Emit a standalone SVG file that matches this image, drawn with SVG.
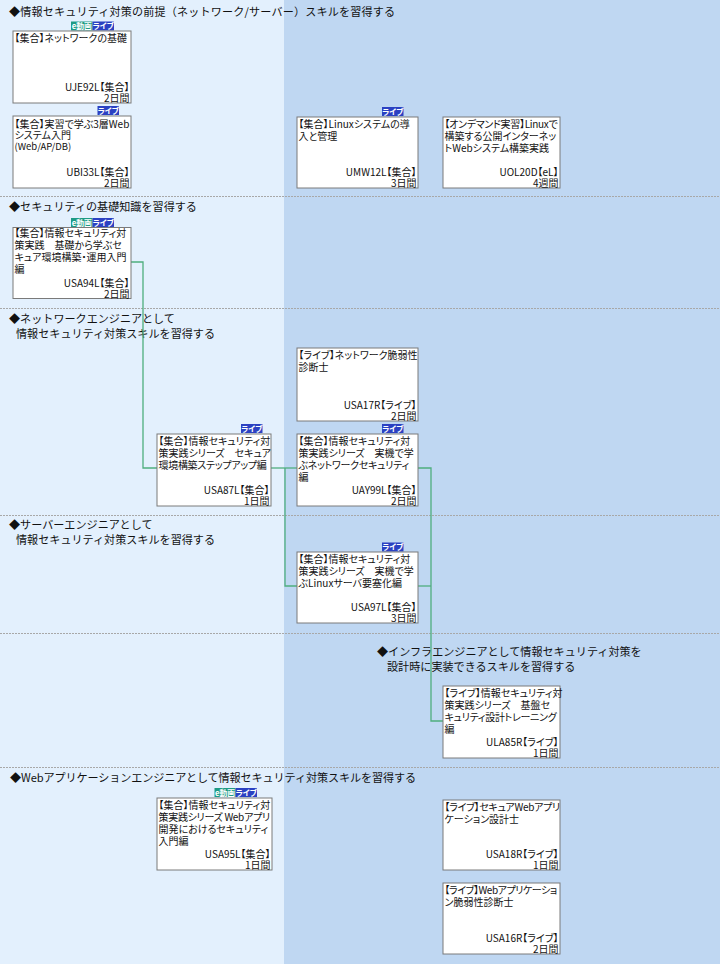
<svg xmlns="http://www.w3.org/2000/svg" width="720" height="964" viewBox="0 0 720 964">
<style>
.h{font-family:"Noto Sans CJK JP","Noto Sans",sans-serif;font-size:11.1px;fill:#111}
.t{font-family:"Noto Sans CJK JP","Noto Sans",sans-serif;font-size:10px;fill:#111;font-feature-settings:"palt"}
.r{text-anchor:end}
.n{letter-spacing:-0.3px}
.box{fill:#fff;stroke:#7a7a7a;stroke-width:1}
.sep{stroke:#a8a8a8;stroke-width:1;stroke-dasharray:2 1}
.con{fill:none;stroke:#4fae7e;stroke-width:1.3}
.bl{fill:#2b41c2}
.be{fill:#1e9b84}
.bt{font-family:"Noto Sans CJK JP","Noto Sans",sans-serif;font-size:7.8px;font-weight:bold;fill:#fff;text-anchor:middle;font-feature-settings:"palt"}
</style>
<g id="background">
<rect x="0" y="0" width="284" height="964" fill="#e3f0fd"/>
<rect x="284" y="0" width="436" height="964" fill="#bfd7f2"/>
<line class="sep" x1="0" y1="196.5" x2="720" y2="196.5"/>
<line class="sep" x1="0" y1="308.5" x2="720" y2="308.5"/>
<line class="sep" x1="0" y1="515.5" x2="720" y2="515.5"/>
<line class="sep" x1="0" y1="633.5" x2="720" y2="633.5"/>
<line class="sep" x1="0" y1="767.5" x2="720" y2="767.5"/>
</g>
<g id="headings">
<text class="h" x="9" y="16" textLength="386" lengthAdjust="spacing">◆情報セキュリティ対策の前提（ネットワーク/サーバー）スキルを習得する</text>
<text class="h" x="9" y="211">◆セキュリティの基礎知識を習得する</text>
<text class="h" x="9" y="323">◆ネットワークエンジニアとして<tspan x="16" dy="15">情報セキュリティ対策スキルを習得する</tspan></text>
<text class="h" x="9" y="529">◆サーバーエンジニアとして<tspan x="16" dy="14.5">情報セキュリティ対策スキルを習得する</tspan></text>
<text class="h" x="377" y="656">◆インフラエンジニアとして情報セキュリティ対策を<tspan x="387" dy="15">設計時に実装できるスキルを習得する</tspan></text>
<text class="h" x="10" y="782" textLength="406" lengthAdjust="spacing">◆Webアプリケーションエンジニアとして情報セキュリティ対策スキルを習得する</text>
</g>
<g id="connectors">
<polyline class="con" points="131,262 143,262 143,468 157,468"/>
<polyline class="con" points="271,468 297,468"/>
<polyline class="con" points="285,468 285,586 297,586"/>
<polyline class="con" points="418,468 431,468 431,721 443,721"/>
<polyline class="con" points="418,586 431,586"/>
</g>
<g id="UJE92L">
<rect class="be" x="71" y="21.5" width="21.5" height="9"/><text class="bt" x="81.8" y="29">e動画</text>
<rect class="bl" x="92.5" y="21.5" width="21.5" height="9"/><text class="bt" x="103.3" y="29">ライブ</text>
<rect class="box" x="13" y="31" width="118" height="72"/>
<text class="t" x="14.5" y="41.5">【集合】ネットワークの基礎</text>
<text class="t r" x="129.5" y="90.5">UJE92L【集合】<tspan x="129.5" dy="11.5">2日間</tspan></text>
</g>
<g id="UBI33L">
<rect class="bl" x="97.5" y="106" width="21.5" height="9"/><text class="bt" x="108.3" y="113.5">ライブ</text>
<rect class="box" x="13" y="116" width="118" height="72"/>
<text class="t" x="14.5" y="127.5">【集合】実習で学ぶ3層Web<tspan x="14.5" dy="11.5">システム入門</tspan><tspan x="14.5" dy="11" style="font-size:9.5px">(Web/AP/DB)</tspan></text>
<text class="t r" x="129.5" y="175.5">UBI33L【集合】<tspan x="129.5" dy="11.5">2日間</tspan></text>
</g>
<g id="UMW12L">
<rect class="bl" x="382" y="107" width="21.5" height="9"/><text class="bt" x="392.8" y="114.5">ライブ</text>
<rect class="box" x="297" y="117" width="121" height="71"/>
<text class="t" x="298.5" y="127.5">【集合】Linuxシステムの導<tspan x="298.5" dy="12">入と管理</tspan></text>
<text class="t r" x="416.5" y="175.5">UMW12L【集合】<tspan x="416.5" dy="11.5">3日間</tspan></text>
</g>
<g id="UOL20D">
<rect class="box" x="443" y="117" width="117" height="71"/>
<text class="t" x="444.5" y="127.5"><tspan class="n">【オンデマンド実習】Linuxで</tspan><tspan x="444.5" dy="12">構築する公開インターネッ</tspan><tspan x="444.5" dy="12">トWebシステム構築実践</tspan></text>
<text class="t r" x="558.5" y="175.5">UOL20D【eL】<tspan x="558.5" dy="11.5">4週間</tspan></text>
</g>
<g id="USA94L">
<rect class="be" x="71" y="218" width="21.5" height="9"/><text class="bt" x="81.8" y="225.5">e動画</text>
<rect class="bl" x="92.5" y="218" width="21.5" height="9"/><text class="bt" x="103.3" y="225.5">ライブ</text>
<rect class="box" x="13" y="227.5" width="118" height="71"/>
<text class="t" x="14.5" y="237">【集合】情報セキュリティ対<tspan x="14.5" dy="12">策実践　基礎から学ぶセ</tspan><tspan x="14.5" dy="12">キュア環境構築・運用入門</tspan><tspan x="14.5" dy="12">編</tspan></text>
<text class="t r" x="129.5" y="287">USA94L【集合】<tspan x="129.5" dy="10.5">2日間</tspan></text>
</g>
<g id="USA17R">
<rect class="box" x="297" y="348" width="121" height="73"/>
<text class="t" x="298.5" y="358.5">【ライブ】ネットワーク脆弱性<tspan x="298.5" dy="12">診断士</tspan></text>
<text class="t r" x="416.5" y="408.5">USA17R【ライブ】<tspan x="416.5" dy="11.5">2日間</tspan></text>
</g>
<g id="USA87L">
<rect class="bl" x="241" y="424" width="21.5" height="9"/><text class="bt" x="251.8" y="431.5">ライブ</text>
<rect class="box" x="157" y="434" width="114" height="72"/>
<text class="t" x="158.5" y="444.5">【集合】情報セキュリティ対<tspan x="158.5" dy="12">策実践シリーズ　セキュア</tspan><tspan x="158.5" dy="12" class="n">環境構築ステップアップ編</tspan></text>
<text class="t r" x="269.5" y="493.5">USA87L【集合】<tspan x="269.5" dy="11.5">1日間</tspan></text>
</g>
<g id="UAY99L">
<rect class="bl" x="382" y="424" width="21.5" height="9"/><text class="bt" x="392.8" y="431.5">ライブ</text>
<rect class="box" x="297" y="434" width="121" height="72"/>
<text class="t" x="298.5" y="444.5">【集合】情報セキュリティ対<tspan x="298.5" dy="12">策実践シリーズ　実機で学</tspan><tspan x="298.5" dy="12" class="n">ぶネットワークセキュリティ</tspan><tspan x="298.5" dy="12">編</tspan></text>
<text class="t r" x="416.5" y="493.5">UAY99L【集合】<tspan x="416.5" dy="11.5">2日間</tspan></text>
</g>
<g id="USA97L">
<rect class="bl" x="382" y="542.5" width="21.5" height="9"/><text class="bt" x="392.8" y="550">ライブ</text>
<rect class="box" x="297" y="552" width="121" height="71"/>
<text class="t" x="298.5" y="562.5">【集合】情報セキュリティ対<tspan x="298.5" dy="12">策実践シリーズ　実機で学</tspan><tspan x="298.5" dy="12">ぶLinuxサーバ要塞化編</tspan></text>
<text class="t r" x="416.5" y="610.5">USA97L【集合】<tspan x="416.5" dy="11.5">3日間</tspan></text>
</g>
<g id="ULA85R">
<rect class="box" x="443" y="686" width="117" height="72"/>
<text class="t" x="444.5" y="696.5">【ライブ】情報セキュリティ対<tspan x="444.5" dy="12">策実践シリーズ　基盤セ</tspan><tspan x="444.5" dy="12" class="n">キュリティ設計トレーニング</tspan><tspan x="444.5" dy="12">編</tspan></text>
<text class="t r" x="558.5" y="745.5">ULA85R【ライブ】<tspan x="558.5" dy="11.5">1日間</tspan></text>
</g>
<g id="USA95L">
<rect class="be" x="214.5" y="788" width="21" height="9"/><text class="bt" x="225" y="795.5">e動画</text>
<rect class="bl" x="235.5" y="788" width="21.5" height="9"/><text class="bt" x="246.3" y="795.5">ライブ</text>
<rect class="box" x="157" y="798" width="115" height="72"/>
<text class="t" x="158.5" y="808.5">【集合】情報セキュリティ対<tspan x="158.5" dy="12" class="n">策実践シリーズ Webアプリ</tspan><tspan x="158.5" dy="12">開発におけるセキュリティ</tspan><tspan x="158.5" dy="12">入門編</tspan></text>
<text class="t r" x="270.5" y="857.5">USA95L【集合】<tspan x="270.5" dy="11.5">1日間</tspan></text>
</g>
<g id="USA18R">
<rect class="box" x="443" y="800" width="117" height="70"/>
<text class="t" x="444.5" y="810.5"><tspan class="n">【ライブ】セキュアWebアプリ</tspan><tspan x="444.5" dy="12">ケーション設計士</tspan></text>
<text class="t r" x="558.5" y="857.5">USA18R【ライブ】<tspan x="558.5" dy="11.5">1日間</tspan></text>
</g>
<g id="USA16R">
<rect class="box" x="443" y="883" width="117" height="71"/>
<text class="t" x="444.5" y="893.5"><tspan class="n" style="letter-spacing:-0.45px">【ライブ】Webアプリケーショ</tspan><tspan x="444.5" dy="12">ン脆弱性診断士</tspan></text>
<text class="t r" x="558.5" y="941.5">USA16R【ライブ】<tspan x="558.5" dy="11.5">2日間</tspan></text>
</g>
</svg>
